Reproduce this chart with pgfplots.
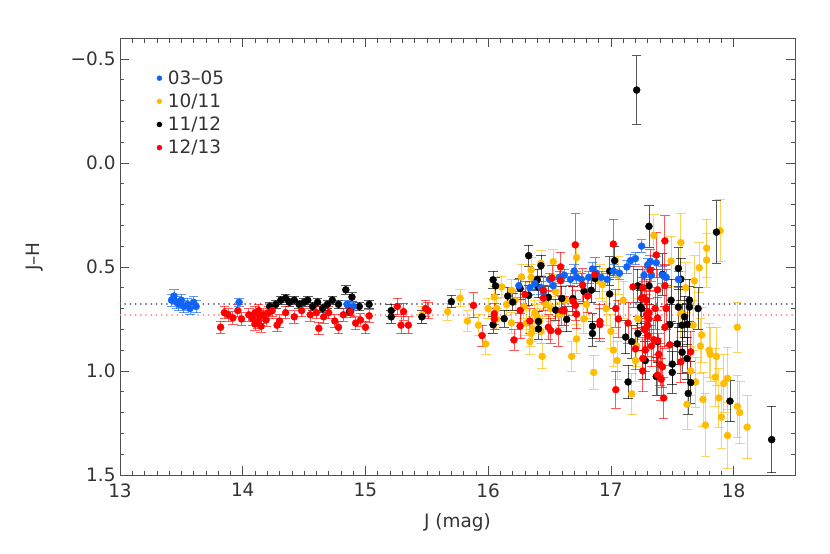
\documentclass[border=0pt]{standalone}
\usepackage{pgfplots}
\pgfplotsset{compat=1.18}
\usepackage{pgfplotstable}
\usepackage{fontspec}
\setmainfont{DejaVu Sans}
\definecolor{cblue}{RGB}{15,100,245}
\definecolor{cyel}{RGB}{255,188,0}
\definecolor{cred}{RGB}{255,0,0}
\definecolor{axgray}{RGB}{80,80,80}

\pgfplotstableread{
x y e
13.42 0.66 0.03
13.44 0.64 0.03
13.46 0.67 0.03
13.48 0.68 0.03
13.50 0.66 0.03
13.52 0.69 0.03
13.55 0.68 0.03
13.57 0.70 0.03
13.60 0.67 0.03
13.62 0.69 0.03
13.97 0.67 0.02
14.85 0.68 0.02
14.90 0.69 0.02
16.25 0.59 0.03
16.34 0.60 0.03
16.38 0.58 0.03
16.43 0.60 0.03
16.45 0.62 0.03
16.50 0.56 0.03
16.53 0.59 0.03
16.58 0.55 0.03
16.62 0.54 0.03
16.67 0.56 0.03
16.70 0.52 0.03
16.72 0.55 0.03
16.76 0.56 0.03
16.82 0.55 0.03
16.85 0.51 0.03
16.88 0.53 0.03
16.92 0.55 0.03
16.97 0.56 0.03
17.02 0.52 0.03
17.07 0.53 0.03
17.13 0.50 0.03
17.16 0.47 0.03
17.20 0.46 0.03
17.25 0.40 0.03
17.27 0.54 0.03
17.30 0.49 0.03
17.32 0.475 0.03
17.33 0.54 0.03
17.37 0.48 0.03
17.42 0.54 0.04
17.45 0.55 0.04
17.55 0.56 0.04
}\tblue

\pgfplotstableread{
x y e
15.46 0.73 0.04
15.67 0.715 0.04
15.77 0.65 0.04
15.83 0.76 0.05
15.92 0.78 0.05
15.98 0.87 0.05
16.00 0.70 0.05
16.05 0.645 0.05
16.07 0.70 0.05
16.07 0.75 0.05
16.11 0.596 0.05
16.15 0.681 0.05
16.19 0.612 0.05
16.19 0.769 0.05
16.22 0.66 0.05
16.27 0.548 0.06
16.29 0.69 0.06
16.31 0.77 0.06
16.35 0.515 0.06
16.35 0.55 0.06
16.35 0.82 0.06
16.34 0.859 0.06
16.36 0.80 0.06
16.38 0.72 0.06
16.40 0.74 0.06
16.42 0.76 0.06
16.43 0.81 0.06
16.43 0.483 0.06
16.44 0.93 0.06
16.47 0.68 0.06
16.53 0.475 0.06
16.51 0.70 0.06
16.55 0.62 0.06
16.58 0.73 0.06
16.63 0.66 0.07
16.68 0.93 0.07
16.72 0.846 0.07
16.72 0.455 0.07
16.78 0.75 0.07
16.80 0.68 0.07
16.86 1.007 0.08
16.91 0.57 0.08
16.93 0.585 0.08
16.96 0.70 0.08
17.00 0.81 0.08
17.02 0.90 0.08
17.05 0.95 0.09
17.06 0.54 0.09
17.10 0.66 0.09
17.17 1.11 0.10
17.20 0.95 0.10
17.21 0.88 0.10
17.22 0.75 0.10
17.35 0.349 0.10
17.49 0.472 0.12
17.57 0.383 0.14
17.57 0.72 0.12
17.61 0.60 0.12
17.62 1.16 0.12
17.65 1.00 0.12
17.67 0.78 0.12
17.68 0.567 0.12
17.69 1.053 0.12
17.72 0.504 0.12
17.73 0.88 0.13
17.74 0.827 0.13
17.75 1.137 0.13
17.77 1.26 0.15
17.78 0.41 0.14
17.78 0.467 0.13
17.80 0.90 0.13
17.81 0.92 0.13
17.86 0.93 0.14
17.85 1.03 0.14
17.88 1.13 0.14
17.89 0.326 0.15
17.90 1.222 0.15
17.92 1.06 0.14
17.95 1.035 0.15
17.95 1.31 0.16
18.03 0.79 0.12
18.03 1.17 0.15
18.05 1.20 0.15
18.11 1.27 0.15
}\tyel

\pgfplotstableread{
x y e
14.22 0.69 0.02
14.27 0.68 0.02
14.31 0.66 0.02
14.35 0.65 0.02
14.38 0.67 0.02
14.42 0.66 0.02
14.46 0.68 0.02
14.50 0.67 0.02
14.53 0.66 0.02
14.57 0.69 0.02
14.61 0.67 0.02
14.65 0.70 0.02
14.69 0.68 0.02
14.73 0.66 0.02
14.78 0.68 0.02
14.84 0.61 0.02
14.89 0.645 0.02
14.87 0.715 0.02
14.95 0.69 0.02
15.03 0.68 0.02
15.21 0.71 0.03
15.21 0.74 0.03
15.46 0.74 0.03
15.70 0.667 0.03
16.04 0.562 0.04
16.06 0.591 0.04
16.16 0.64 0.04
16.20 0.669 0.04
16.13 0.749 0.04
16.04 0.778 0.04
16.26 0.604 0.05
16.33 0.446 0.05
16.43 0.494 0.05
16.40 0.562 0.05
16.41 0.598 0.05
16.33 0.637 0.05
16.49 0.646 0.05
16.41 0.762 0.05
16.41 0.798 0.05
16.55 0.707 0.05
16.64 0.752 0.06
16.60 0.652 0.06
16.69 0.652 0.06
16.84 0.612 0.06
16.78 0.617 0.06
16.87 0.556 0.06
16.85 0.785 0.06
16.85 0.82 0.06
16.99 0.63 0.07
17.03 0.47 0.07
16.99 0.52 0.07
17.12 0.837 0.08
17.14 1.053 0.08
17.17 0.859 0.08
17.22 0.82 0.08
17.24 0.693 0.08
17.31 0.305 0.10
17.28 0.95 0.09
17.37 1.027 0.09
17.31 0.591 0.09
17.22 0.591 0.08
17.21 -0.35 0.165
17.42 0.536 0.10
17.55 0.507 0.10
17.57 0.559 0.10
17.49 0.66 0.10
17.55 0.693 0.10
17.64 0.66 0.10
17.64 0.693 0.10
17.71 0.70 0.10
17.60 0.74 0.10
17.58 0.78 0.10
17.62 0.775 0.10
17.48 0.778 0.10
17.54 0.87 0.10
17.58 0.91 0.10
17.62 0.94 0.10
17.50 0.967 0.10
17.50 1.007 0.10
17.65 1.056 0.10
17.63 1.108 0.10
17.97 1.145 0.10
18.31 1.33 0.16
17.86 0.333 0.15
17.38 0.859 0.10
17.25 0.70 0.09
}\tblack

\pgfplotstableread{
x y e
13.82 0.79 0.03
13.85 0.72 0.03
13.88 0.73 0.03
13.92 0.745 0.03
13.96 0.71 0.03
13.99 0.75 0.03
14.05 0.73 0.03
14.08 0.75 0.03
14.10 0.72 0.03
14.12 0.765 0.03
14.14 0.74 0.03
14.15 0.785 0.03
14.17 0.73 0.03
14.19 0.755 0.03
14.10 0.775 0.03
14.13 0.71 0.03
14.21 0.72 0.03
14.24 0.71 0.03
14.28 0.78 0.03
14.30 0.76 0.03
14.35 0.72 0.03
14.42 0.74 0.03
14.48 0.71 0.03
14.55 0.73 0.03
14.60 0.72 0.03
14.62 0.795 0.03
14.66 0.74 0.03
14.70 0.72 0.03
14.75 0.76 0.03
14.78 0.79 0.03
14.82 0.73 0.03
14.88 0.715 0.03
14.92 0.77 0.03
14.96 0.755 0.03
15.00 0.79 0.03
15.03 0.735 0.03
15.26 0.69 0.04
15.31 0.715 0.04
15.29 0.78 0.04
15.35 0.78 0.04
15.49 0.70 0.04
15.51 0.71 0.04
15.88 0.685 0.06
15.95 0.83 0.05
16.05 0.725 0.05
16.05 0.75 0.05
16.21 0.851 0.05
16.26 0.709 0.06
16.26 0.785 0.06
16.30 0.632 0.06
16.34 0.76 0.06
16.45 0.612 0.06
16.45 0.65 0.06
16.49 0.79 0.06
16.51 0.806 0.06
16.52 0.553 0.06
16.57 0.81 0.07
16.59 0.50 0.07
16.59 0.565 0.07
16.60 0.71 0.07
16.62 0.71 0.07
16.69 0.665 0.07
16.71 0.685 0.07
16.71 0.394 0.15
16.72 0.727 0.07
16.77 0.588 0.08
16.81 0.64 0.08
16.87 0.536 0.08
16.91 0.762 0.08
16.91 0.778 0.08
17.02 0.39 0.12
17.04 0.70 0.09
17.06 0.75 0.09
17.04 1.09 0.09
17.14 0.77 0.10
17.18 0.596 0.10
17.20 0.894 0.10
17.25 0.65 0.10
17.27 0.65 0.10
17.28 0.80 0.10
17.29 0.73 0.10
17.31 0.75 0.10
17.28 0.90 0.10
17.30 0.78 0.10
17.32 0.515 0.10
17.37 0.443 0.11
17.35 0.85 0.10
17.38 0.855 0.10
17.44 0.375 0.12
17.26 0.60 0.10
17.29 0.66 0.10
17.31 0.72 0.10
17.38 0.61 0.10
17.36 0.70 0.10
17.38 0.745 0.10
17.44 0.59 0.10
17.45 0.70 0.10
17.44 0.79 0.10
17.27 0.80 0.10
17.30 0.83 0.10
17.33 0.88 0.10
17.26 0.94 0.10
17.26 1.00 0.10
17.39 0.92 0.10
17.40 0.97 0.10
17.42 0.98 0.10
17.38 1.02 0.10
17.41 1.04 0.10
17.43 1.13 0.10
17.48 0.874 0.10
17.57 0.956 0.10
17.65 0.908 0.10
}\tred

\pgfplotsset{
  errpts/.style={only marks, mark=*, mark size=3.5bp, color=#1,
    mark options={draw=#1, fill=#1},
    error bars/.cd, y dir=both, y explicit,
    error bar style={#1, opacity=0.65, line width=0.9bp},
    error mark options={rotate=90, mark size=4.8bp, #1, opacity=0.65, line width=0.9bp}},
}

\begin{document}
\begin{tikzpicture}
\begin{axis}[
  name=ax,
  scale only axis, width=675bp, height=437bp,
  xmin=13, xmax=18.5, ymin=-0.6, ymax=1.5, y dir=reverse,
  xtick={13,14,15,16,17,18}, xticklabels={13,14,15,16,17,18},
  ytick={-0.5,0,0.5,1,1.5}, yticklabels={−0.5,0.0,0.5,1.0,1.5},
  minor x tick num=9, minor y tick num=4,
  tick align=inside, major tick length=9bp, minor tick length=4.5bp,
  every tick/.style={axgray, line width=0.6bp},
  axis line style={axgray, line width=0.8bp},
  ticklabel style={font=\fontsize{18.5}{21}\selectfont, text=black!80},
  xticklabel style={yshift=-5bp},
  yticklabel style={xshift=-1bp},
  xlabel={J (mag)}, ylabel={J–H},
  every axis x label/.style={at={(axis description cs:0.5,0)}, yshift=-47bp, anchor=center, font=\fontsize{18.5}{21}\selectfont, text=black!80},
  every axis y label/.style={at={(axis description cs:0,0.5)}, xshift=-85bp, rotate=90, anchor=center, font=\fontsize{18.5}{21}\selectfont, text=black!80},
  legend style={draw=none, fill=none, font=\fontsize{18.5}{21}\selectfont,
    at={(0.05,0.935)}, anchor=north west, row sep=4bp,
    nodes={text=black!80},
    /tikz/every odd column/.append style={column sep=4bp}},
  legend cell align=left,
  clip=true,
]
\addlegendimage{only marks, mark=*, mark size=2.5bp, cblue}
\addlegendentry{03–05}
\addlegendimage{only marks, mark=*, mark size=2.5bp, cyel}
\addlegendentry{10/11}
\addlegendimage{only marks, mark=*, mark size=2.5bp, black}
\addlegendentry{11/12}
\addlegendimage{only marks, mark=*, mark size=2.5bp, cred}
\addlegendentry{12/13}

\addplot[forget plot, color={rgb,255:red,90;green,100;blue,125}, line width=2bp, line cap=round, dash pattern=on 0.01bp off 5.2bp] coordinates {(13,0.68) (18.5,0.68)};
\addplot[forget plot, color={rgb,255:red,255;green,135;blue,135}, line width=2bp, line cap=round, dash pattern=on 0.01bp off 5.2bp] coordinates {(13,0.733) (18.5,0.733)};

\addplot[forget plot, errpts=cyel] table[x=x, y=y, y error=e] {\tyel};
\addplot[forget plot, errpts=black] table[x=x, y=y, y error=e] {\tblack};
\addplot[forget plot, errpts=cblue] table[x=x, y=y, y error=e] {\tblue};
\addplot[forget plot, errpts=cred] table[x=x, y=y, y error=e] {\tred};
\end{axis}
\path[use as bounding box] ([shift={(-120bp,-79bp)}]ax.south west) rectangle ([shift={(35bp,38bp)}]ax.north east);
\end{tikzpicture}
\end{document}
